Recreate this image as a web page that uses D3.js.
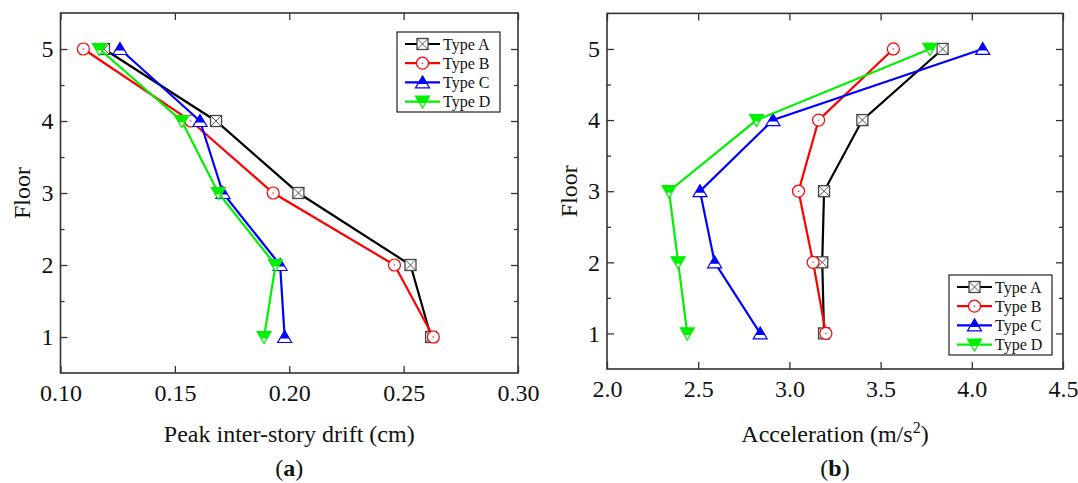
<!DOCTYPE html>
<html>
<head>
<meta charset="utf-8">
<script src="https://cdn.jsdelivr.net/npm/d3@7/dist/d3.min.js"></script>
<style>
  body { margin: 0; background: #fff; }
  svg text { font-family: "Liberation Serif", "Times New Roman", serif; }
</style>
</head>
<body>
<div id="plot"></div>
<script>
// Floors and measured responses per building type
var floors = [1, 2, 3, 4, 5];
var driftA = [0.262, 0.253, 0.204, 0.168, 0.119];
var driftB = [0.263, 0.246, 0.193, 0.157, 0.110];
var driftC = [0.198, 0.196, 0.171, 0.161, 0.126];
var driftD = [0.189, 0.194, 0.169, 0.153, 0.117];
var accA = [3.19, 3.18, 3.19, 3.40, 3.84];
var accB = [3.20, 3.13, 3.05, 3.16, 3.57];
var accC = [2.84, 2.59, 2.51, 2.91, 4.06];
var accD = [2.44, 2.39, 2.34, 2.82, 3.77];

var typeNames = ["Type A", "Type B", "Type C", "Type D"];
var driftTicks = [0.10, 0.15, 0.20, 0.25, 0.30];
var accTicks = [2.0, 2.5, 3.0, 3.5, 4.0, 4.5];
var floorTicks = [1, 2, 3, 4, 5];
var floorMinor = [1.5, 2.5, 3.5, 4.5];

var FONT = '"Liberation Serif", "Times New Roman", serif';

var styles = [
  {color: "#000000", marker: "square"},
  {color: "#ff0000", marker: "circle"},
  {color: "#0000ff", marker: "up"},
  {color: "#00f000", marker: "down"}
];

var svg = d3.select("#plot")
  .append("svg")
    .attr("width", 1078)
    .attr("height", 483);

var defs = svg.append("defs");
defs.append("clipPath").attr("id", "halfTop")
  .append("rect").attr("x", -10).attr("y", -10).attr("width", 20).attr("height", 11.5);

// Draw one marker symbol centred at (0,0) inside group g
function drawMarker(g, kind, color) {
  if (kind === "square") {
    g.append("rect")
      .attr("x", -5.5).attr("y", -5.5).attr("width", 11).attr("height", 11)
      .attr("fill", "#fff").attr("stroke", "#444").attr("stroke-width", 1.3);
    g.append("path")
      .attr("d", "M-5.5,-5.5L5.5,5.5M5.5,-5.5L-5.5,5.5")
      .attr("stroke", "#444").attr("stroke-width", 0.9);
  } else if (kind === "circle") {
    g.append("circle").attr("r", 6)
      .attr("fill", "#fff").attr("stroke", color).attr("stroke-width", 1.2);
    g.append("circle").attr("r", 0.7).attr("fill", color);
  } else {
    // triangles: upper half filled, lower half open
    var tri = kind === "up" ? "M0,-6.5L7,5.5L-7,5.5Z" : "M-7,-5.5L7,-5.5L0,6.5Z";
    g.append("path").attr("d", tri)
      .attr("fill", "#fff").attr("stroke", color).attr("stroke-width", 1.2);
    g.append("path").attr("d", tri)
      .attr("fill", color)
      .attr("clip-path", "url(#halfTop)");
  }
}

function drawPanel(cfg) {
  var x = d3.scaleLinear().domain(cfg.xDomain).range(cfg.xRange);
  var y = d3.scaleLinear().domain([0.5, 5.5]).range(cfg.yRange);
  var g = svg.append("g");
  var x0 = cfg.xRange[0], x1 = cfg.xRange[1];
  var yb = cfg.yRange[0], yt = cfg.yRange[1];

  // Axes with inward ticks on all four sides
  g.append("g")
    .attr("transform", "translate(0," + yb + ")")
    .call(d3.axisBottom(x).tickValues(cfg.xTicks).tickFormat(d3.format(cfg.xFormat))
      .tickSizeInner(-7).tickSizeOuter(0).tickPadding(11));
  g.append("g")
    .attr("transform", "translate(0," + yt + ")")
    .call(d3.axisTop(x).tickValues(cfg.xTicks).tickFormat("")
      .tickSizeInner(-7).tickSizeOuter(0));
  g.append("g")
    .attr("transform", "translate(" + x0 + ",0)")
    .call(d3.axisLeft(y).tickValues(floorTicks).tickFormat(d3.format("d"))
      .tickSizeInner(-7).tickSizeOuter(0).tickPadding(7));
  g.append("g")
    .attr("transform", "translate(" + x0 + ",0)")
    .call(d3.axisLeft(y).tickValues(floorMinor).tickFormat("")
      .tickSizeInner(-4).tickSizeOuter(0));
  g.append("g")
    .attr("transform", "translate(" + x1 + ",0)")
    .call(d3.axisRight(y).tickValues(floorTicks).tickFormat("")
      .tickSizeInner(-7).tickSizeOuter(0));
  g.append("g")
    .attr("transform", "translate(" + x1 + ",0)")
    .call(d3.axisRight(y).tickValues(floorMinor).tickFormat("")
      .tickSizeInner(-4).tickSizeOuter(0));

  g.selectAll(".domain").remove();
  g.selectAll(".tick line").attr("stroke", "#333").attr("stroke-width", 1.3);
  g.selectAll(".tick text").attr("fill", "#111")
    .attr("font-family", null)
    .style("font-family", FONT).style("font-size", "24px");

  g.append("rect")
    .attr("x", x0).attr("y", yt)
    .attr("width", x1 - x0).attr("height", yb - yt)
    .attr("fill", "none").attr("stroke", "#333").attr("stroke-width", 1.6);

  // Series lines, then markers
  var line = d3.line()
    .x(function(d) { return x(d[0]); })
    .y(function(d) { return y(d[1]); });

  cfg.series.forEach(function(vals, i) {
    var pts = vals.map(function(v, j) { return [v, floors[j]]; });
    var s = g.append("g");
    s.append("path")
      .datum(pts)
      .attr("d", line)
      .attr("fill", "none")
      .attr("stroke", styles[i].color)
      .attr("stroke-width", 2.2);
    pts.forEach(function(p) {
      var m = s.append("g").attr("transform", "translate(" + x(p[0]) + "," + y(p[1]) + ")");
      drawMarker(m, styles[i].marker, styles[i].color);
    });
  });

  // Legend
  var lg = g.append("g").attr("transform", "translate(" + cfg.legend[0] + "," + cfg.legend[1] + ")");
  lg.append("rect")
    .attr("width", 103).attr("height", 80)
    .attr("fill", "#fff").attr("stroke", "#222").attr("stroke-width", 1.2);
  typeNames.forEach(function(name, i) {
    var row = lg.append("g").attr("transform", "translate(0," + (12 + i * 19.2) + ")");
    row.append("line")
      .attr("x1", 8).attr("x2", 43)
      .attr("stroke", styles[i].color).attr("stroke-width", 2.2);
    drawMarker(row.append("g").attr("transform", "translate(25.5,0)"),
      styles[i].marker, styles[i].color);
    row.append("text")
      .attr("x", 46).attr("y", 5.5)
      .style("font-family", FONT)
      .style("font-size", "16px")
      .attr("fill", "#111")
      .text(name);
  });

  // Axis titles
  var xt = g.append("text")
    .attr("x", (x0 + x1) / 2).attr("y", 442)
    .attr("text-anchor", "middle")
    .style("font-family", FONT)
    .style("font-size", "24px")
    .attr("fill", "#111");
  cfg.xTitle(xt);

  g.append("text")
    .attr("transform", "translate(" + cfg.yTitleX + "," + ((yt + yb) / 2) + ") rotate(-90)")
    .attr("text-anchor", "middle")
    .style("font-family", FONT)
    .style("font-size", "24px")
    .attr("fill", "#111")
    .text("Floor");

  var cap = g.append("text")
    .attr("x", (x0 + x1) / 2).attr("y", 476)
    .attr("text-anchor", "middle")
    .style("font-family", FONT)
    .style("font-size", "24px")
    .attr("fill", "#111");
  cap.append("tspan").text("(");
  cap.append("tspan").style("font-weight", "bold").text(cfg.tag);
  cap.append("tspan").text(")");
}

drawPanel({
  xDomain: [0.10, 0.30], xRange: [60.5, 518],
  yRange: [373, 13],
  xTicks: driftTicks, xFormat: ".2f",
  series: [driftA, driftB, driftC, driftD],
  legend: [397, 32],
  yTitleX: 30,
  tag: "a",
  xTitle: function(t) { t.text("Peak inter-story drift (cm)"); }
});

drawPanel({
  xDomain: [2.0, 4.5], xRange: [607, 1063],
  yRange: [369, 13.4],
  xTicks: accTicks, xFormat: ".1f",
  series: [accA, accB, accC, accD],
  legend: [949, 275],
  yTitleX: 577,
  tag: "b",
  xTitle: function(t) {
    t.append("tspan").text("Acceleration (m/s");
    t.append("tspan").attr("dy", -9).style("font-size", "16px").text("2");
    t.append("tspan").attr("dy", 9).text(")");
  }
});
</script>
</body>
</html>
